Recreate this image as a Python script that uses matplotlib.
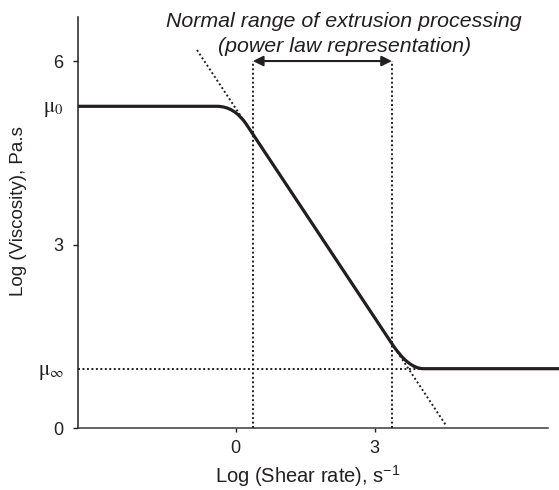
import matplotlib
matplotlib.use("Agg")
import matplotlib.pyplot as plt
from matplotlib.path import Path
from matplotlib.patches import PathPatch

plt.rcParams["font.family"] = ["Liberation Sans", "DejaVu Sans"]
plt.rcParams["mathtext.fontset"] = "custom"
plt.rcParams["mathtext.rm"] = "Liberation Sans"
plt.rcParams["mathtext.it"] = "Liberation Sans:italic"

INK = "#231f20"

# Axis ticks and labels
shear_ticks = [0, 3]
shear_tick_labels = ["0", "3"]
visc_ticks = [0, 3, 6]
visc_tick_labels = ["0", "3", "6"]

# Newtonian plateaus (zero-shear and infinite-shear viscosity)
mu_levels = [5.26, 0.97]
mu_labels = [r"$\mathrm{\mu}_0$", r"$\mathrm{\mu}_\infty$"]

# Flow curve: plateau -> power-law region -> plateau, with rounded knees
curve_x = [-3.40, -0.40, -0.03, 0.23, 3.36, 3.72, 4.05, 6.97]
curve_y = [5.26, 5.26, 5.26, 4.97, 1.39, 0.97, 0.97, 0.97]

# Power-law tangent extended beyond the curve
tangent_x = [-0.83, 4.53]
tangent_y = [6.18, 0.05]

# Typical extrusion processing window
range_x = [0.375, 3.37]
range_top = 6.0

fig = plt.figure(figsize=(5.59, 4.90), dpi=100)
ax = fig.add_axes([0.139, 0.1265, 0.861, 0.8388])
ax.set_xlim(-3.40, 6.97)
ax.set_ylim(0, 6.72)

codes = [Path.MOVETO, Path.LINETO, Path.CURVE3, Path.CURVE3,
         Path.LINETO, Path.CURVE3, Path.CURVE3, Path.LINETO]
flow_path = Path(list(zip(curve_x, curve_y)), codes)
ax.add_patch(PathPatch(flow_path, facecolor="none", edgecolor=INK,
                       lw=2.3, capstyle="butt", joinstyle="round", zorder=4))

dot = (0, (1.0, 1.3))
ax.plot(tangent_x, tangent_y, color=INK, lw=1.4, ls=dot, zorder=3)
ax.plot([curve_x[0], curve_x[6]], [mu_levels[1], mu_levels[1]],
        color=INK, lw=1.4, ls=dot, zorder=3)
for xv in range_x:
    ax.plot([xv, xv], [0, range_top], color=INK, lw=1.4, ls=dot, zorder=3)

ax.annotate("", xy=(range_x[1], range_top), xytext=(range_x[0], range_top),
            arrowprops=dict(arrowstyle="<|-|>", mutation_scale=15, lw=1.5,
                            color=INK, shrinkA=0, shrinkB=0), zorder=5)

tx = (range_x[0] + range_x[1]) / 2 + 0.47
ax.text(tx, 6.555, "Normal range of extrusion processing", style="italic",
        ha="center", va="baseline", fontsize=15.4, color=INK)
ax.text(tx, 6.15, "(power law representation)", style="italic",
        ha="center", va="baseline", fontsize=15.4, color=INK)

# Axes styling
for side in ("top", "right"):
    ax.spines[side].set_visible(False)
ax.spines["left"].set_color(INK)
ax.spines["bottom"].set_color("#3a3a3a")
ax.spines["left"].set_linewidth(1.1)
ax.spines["bottom"].set_linewidth(1.1)
ax.spines["bottom"].set_bounds(-3.40, 6.74)

ax.set_xticks(shear_ticks)
ax.set_xticklabels(shear_tick_labels)
ax.set_yticks(visc_ticks + mu_levels)
ax.set_yticklabels(visc_tick_labels + mu_labels)
ax.tick_params(axis="x", length=3, width=1, pad=5.5, labelsize=13, colors=INK)
ax.tick_params(axis="y", length=3.3, width=1, pad=7, labelsize=13, colors=INK)

yticks = ax.yaxis.get_major_ticks()
for t in yticks[len(visc_ticks):]:
    t.tick1line.set_visible(False)
    t.label1.set_math_fontfamily("stix")
    t.label1.set_fontsize(15)

ax.set_xlabel("Log (Shear rate), s$^{-1}$", fontsize=14.5, color=INK)
ax.xaxis.set_label_coords(0.4775, -0.085)
ax.set_ylabel("Log (Viscosity), Pa.s", fontsize=13.5, color=INK)
ax.yaxis.set_label_coords(-0.105, 0.529)

fig.savefig("out.png", dpi=100)
